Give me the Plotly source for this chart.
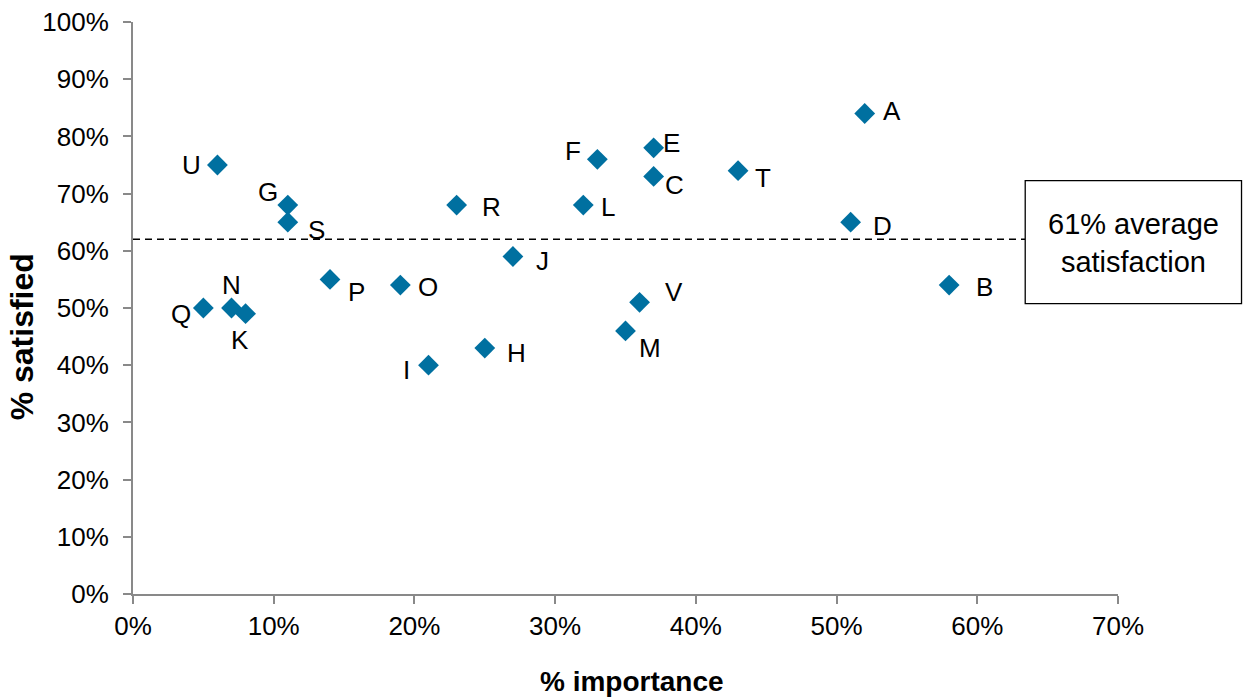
import plotly.graph_objects as go

# ---- data ----
names = ["A", "B", "C", "D", "E", "F", "G", "H", "I", "J", "K",
         "L", "M", "N", "O", "P", "Q", "R", "S", "T", "U", "V"]
importance = [0.52, 0.58, 0.37, 0.51, 0.37, 0.33, 0.11, 0.25, 0.21, 0.27, 0.08,
              0.32, 0.35, 0.07, 0.19, 0.14, 0.05, 0.23, 0.11, 0.43, 0.06, 0.36]
satisfied = [0.84, 0.54, 0.73, 0.65, 0.78, 0.76, 0.68, 0.43, 0.40, 0.59, 0.49,
             0.68, 0.46, 0.50, 0.54, 0.55, 0.50, 0.68, 0.65, 0.74, 0.75, 0.51]
average_line = 0.62
average_text = "61% average<br>satisfaction"
x_ticks = [0, 0.1, 0.2, 0.3, 0.4, 0.5, 0.6, 0.7]
y_ticks = [0, 0.1, 0.2, 0.3, 0.4, 0.5, 0.6, 0.7, 0.8, 0.9, 1.0]

# ---- label placement (pixel offsets from marker centre: dx right, dy down) ----
label_offsets = {
    "A": (27, -3), "B": (35, 2), "C": (21, 9), "D": (32, 4), "E": (18, -5),
    "F": (-24, -8), "G": (-20, -13), "H": (32, 5), "I": (-22, 5), "J": (30, 4),
    "K": (-6, 26), "L": (25, 2), "M": (24, 17), "N": (0, -23), "O": (28, 2),
    "P": (26, 13), "Q": (-22, 6), "R": (35, 2), "S": (29, 8), "T": (25, 7),
    "U": (-26, 0), "V": (34, -10),
}

FONT = "Liberation Sans, Arial, sans-serif"
AXIS_COLOR = "#898989"

fig = go.Figure()
fig.add_trace(go.Scatter(
    x=importance, y=satisfied, mode="markers", text=names,
    marker=dict(symbol="diamond", size=16, color="#0070A0", line=dict(width=0)),
    hoverinfo="text+x+y", showlegend=False,
))

annotations = []
for n, xv, yv in zip(names, importance, satisfied):
    dx, dy = label_offsets[n]
    annotations.append(dict(
        x=xv, y=yv, xref="x", yref="y", text=n, showarrow=False,
        xshift=dx, yshift=-dy, xanchor="center", yanchor="middle",
        font=dict(family=FONT, size=26, color="#000000"),
    ))

# axis titles
annotations.append(dict(
    x=0.507, y=-0.153, xref="paper", yref="paper", text="<b>% importance</b>",
    showarrow=False, xanchor="center", yanchor="middle",
    font=dict(family=FONT, size=28, color="#000000"),
))
annotations.append(dict(
    x=-0.1132, y=0.4496, xref="paper", yref="paper", text="<b>% satisfied</b>",
    showarrow=False, xanchor="center", yanchor="middle", textangle=-90,
    font=dict(family=FONT, size=32, color="#000000"),
))

# average box text
annotations.append(dict(
    x=1.0155, y=0.6138, xref="paper", yref="paper", text=average_text,
    showarrow=False, xanchor="center", yanchor="middle", align="center",
    font=dict(family=FONT, size=29, color="#000000"),
))

shapes = [
    dict(type="line", xref="paper", yref="y", x0=0, x1=0.9058,
         y0=average_line, y1=average_line,
         line=dict(color="#000000", width=1.5, dash="7px,5px"), layer="below"),
    dict(type="rect", xref="paper", yref="paper", x0=0.9058, x1=1.1254,
         y0=0.5078, y1=0.7227, fillcolor="#FFFFFF",
         line=dict(color="#000000", width=1.3)),
]

fig.update_layout(
    width=1243, height=698,
    margin=dict(l=133, r=125, t=22, b=104, autoexpand=False),
    paper_bgcolor="#FFFFFF", plot_bgcolor="#FFFFFF",
    font=dict(family=FONT, size=26, color="#000000"),
    annotations=annotations, shapes=shapes,
    xaxis=dict(
        range=[0, 0.7], tickvals=x_ticks, tickformat=".0%",
        showgrid=False, zeroline=False, showline=True, automargin=False,
        linecolor=AXIS_COLOR, linewidth=2,
        ticks="outside", ticklen=8, tickwidth=2, tickcolor=AXIS_COLOR,
        tickfont=dict(family=FONT, size=26, color="#000000"),
        ticklabelstandoff=0,
    ),
    yaxis=dict(
        range=[0, 1.0], tickvals=y_ticks, tickformat=".0%",
        showgrid=False, zeroline=False, showline=True, automargin=False,
        linecolor=AXIS_COLOR, linewidth=2,
        ticks="outside", ticklen=8, tickwidth=2, tickcolor=AXIS_COLOR,
        tickfont=dict(family=FONT, size=26, color="#000000"),
        ticklabelstandoff=9,
    ),
)

fig.write_html("out.html")
